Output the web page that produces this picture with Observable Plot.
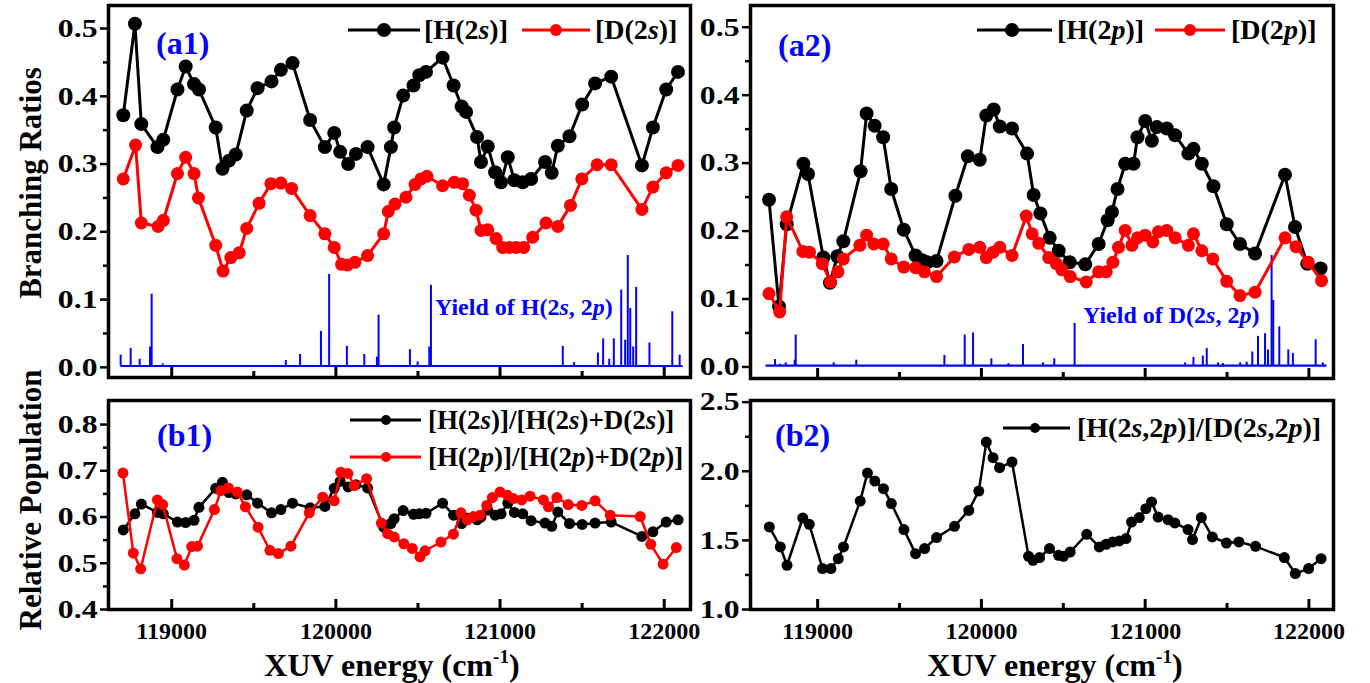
<!DOCTYPE html>
<html><head><meta charset="utf-8">
<script src="https://cdn.jsdelivr.net/npm/d3@7"></script>
<script src="https://cdn.jsdelivr.net/npm/@observablehq/plot@0.6"></script>
<style>
body{margin:0;background:#fff;}
#wrap{position:relative;width:1370px;height:683px;overflow:hidden;font-family:"Liberation Serif","Times New Roman",serif;font-weight:bold;}
.abs{position:absolute;white-space:nowrap;line-height:1;}
svg.pl{position:absolute;overflow:visible;}
svg.pl text{font-weight:bold;}
</style></head>
<body><div id="wrap"></div>
<script>
// ---------- data ----------
const h2sE=[118705,118776,118815,118913,118949,119035,119085,119136,119166,119268,119309,119349,119390,119457,119523,119608,119665,119736,119843,119933,119990,120026,120075,120122,120193,120291,120335,120355,120410,120473,120508,120549,120650,120717,120766,120793,120860,120884,120925,120970,121006,121047,121087,121138,121189,121274,121315,121352,121423,121500,121579,121677,121864,121931,122012,122084];
const h2sV=[0.372,0.507,0.359,0.325,0.336,0.410,0.444,0.418,0.410,0.354,0.293,0.305,0.314,0.379,0.412,0.422,0.439,0.449,0.365,0.325,0.346,0.318,0.300,0.315,0.325,0.270,0.325,0.354,0.401,0.416,0.431,0.436,0.457,0.416,0.385,0.377,0.340,0.303,0.326,0.288,0.273,0.310,0.276,0.273,0.278,0.303,0.287,0.327,0.341,0.388,0.419,0.429,0.298,0.354,0.410,0.436];
const d2sE=[118705,118780,118815,118917,118949,119035,119085,119136,119163,119268,119313,119360,119411,119457,119532,119604,119665,119730,119843,119933,119990,120035,120071,120116,120193,120291,120319,120360,120427,120482,120518,120555,120650,120721,120772,120813,120854,120884,120925,120976,121016,121057,121098,121144,121199,121280,121352,121429,121498,121591,121677,121864,121931,122012,122084];
const d2sV=[0.278,0.328,0.213,0.208,0.217,0.286,0.310,0.286,0.250,0.180,0.142,0.162,0.169,0.205,0.242,0.271,0.272,0.264,0.224,0.197,0.177,0.152,0.151,0.155,0.165,0.197,0.230,0.241,0.251,0.270,0.278,0.282,0.268,0.273,0.271,0.254,0.232,0.202,0.203,0.190,0.177,0.177,0.177,0.177,0.192,0.213,0.208,0.239,0.278,0.299,0.299,0.233,0.266,0.287,0.298];
const h2pE=[118703,118764,118811,118913,118941,119035,119075,119120,119157,119262,119299,119348,119400,119449,119526,119598,119638,119669,119726,119841,119917,119990,120030,120075,120112,120187,120279,120319,120360,120417,120472,120539,120634,120716,120771,120797,120831,120878,120929,120953,121000,121041,121071,121132,121183,121264,121295,121346,121417,121498,121579,121671,121854,121915,121990,122071];
const h2pV=[0.246,0.089,0.210,0.299,0.284,0.161,0.124,0.163,0.185,0.288,0.373,0.355,0.338,0.262,0.202,0.164,0.157,0.154,0.156,0.252,0.310,0.305,0.370,0.379,0.354,0.351,0.314,0.253,0.226,0.190,0.171,0.154,0.151,0.181,0.216,0.228,0.262,0.299,0.299,0.338,0.362,0.333,0.353,0.351,0.341,0.314,0.321,0.299,0.266,0.210,0.181,0.167,0.283,0.206,0.152,0.145];
const d2pE=[118703,118768,118811,118910,118950,119028,119079,119124,119157,119258,119299,119343,119400,119449,119526,119598,119652,119726,119835,119923,119990,120030,120071,120112,120187,120274,120310,120350,120411,120457,120492,120543,120640,120716,120762,120803,120837,120878,120919,120953,121000,121047,121081,121132,121183,121264,121295,121346,121413,121498,121579,121671,121854,121921,121996,122077];
const d2pV=[0.108,0.081,0.221,0.170,0.169,0.152,0.125,0.140,0.159,0.179,0.194,0.181,0.181,0.159,0.147,0.146,0.140,0.133,0.162,0.173,0.176,0.161,0.169,0.176,0.164,0.222,0.196,0.182,0.161,0.152,0.143,0.133,0.125,0.140,0.140,0.154,0.176,0.201,0.179,0.190,0.194,0.184,0.199,0.201,0.190,0.179,0.196,0.171,0.159,0.126,0.105,0.110,0.190,0.177,0.154,0.127];
const relSE=h2sE.slice();
const relSV=[0.572,0.607,0.628,0.610,0.607,0.589,0.588,0.593,0.621,0.662,0.675,0.653,0.650,0.648,0.630,0.609,0.616,0.630,0.620,0.623,0.662,0.677,0.665,0.670,0.663,0.578,0.586,0.596,0.614,0.606,0.607,0.608,0.630,0.604,0.586,0.598,0.594,0.600,0.615,0.604,0.607,0.630,0.610,0.607,0.592,0.587,0.580,0.611,0.586,0.584,0.587,0.589,0.558,0.568,0.589,0.594];
const relPE=[118703,118766,118811,118913,118945,119032,119077,119122,119157,119260,119299,119345,119400,119449,119526,119598,119650,119726,119838,119920,119990,120030,120073,120112,120187,120277,120315,120355,120414,120465,120512,120543,120640,120716,120762,120800,120837,120878,120919,120953,121000,121044,121081,121132,121183,121264,121295,121346,121415,121498,121579,121671,121854,121918,121993,122074];
const relPV=[0.695,0.522,0.488,0.637,0.627,0.510,0.496,0.536,0.537,0.616,0.657,0.663,0.654,0.622,0.578,0.528,0.521,0.537,0.609,0.643,0.635,0.697,0.694,0.668,0.683,0.587,0.564,0.557,0.542,0.532,0.514,0.527,0.546,0.563,0.609,0.594,0.601,0.604,0.625,0.642,0.654,0.647,0.640,0.637,0.645,0.637,0.622,0.642,0.627,0.625,0.635,0.604,0.601,0.541,0.498,0.534];
const ratioE=[118705,118772,118813,118909,118949,119030,119081,119126,119158,119260,119304,119349,119402,119450,119527,119598,119653,119726,119836,119923,119984,120030,120071,120111,120187,120288,120315,120355,120416,120471,120501,120542,120643,120720,120761,120802,120842,120883,120917,120964,121004,121039,121079,121140,121181,121262,121289,121343,121410,121496,121572,121674,121850,121917,121998,122074];
const ratioV=[1.597,1.453,1.320,1.662,1.616,1.296,1.296,1.368,1.453,1.785,1.987,1.929,1.874,1.766,1.578,1.404,1.441,1.520,1.602,1.717,1.857,2.211,2.098,2.026,2.067,1.385,1.356,1.376,1.441,1.392,1.385,1.416,1.544,1.453,1.472,1.489,1.496,1.513,1.633,1.665,1.729,1.778,1.669,1.650,1.626,1.578,1.506,1.665,1.525,1.481,1.489,1.457,1.376,1.260,1.296,1.368];
// yield spectra: peak energies and heights
const yieldHE=[118689,118750,118805,118868,118878,118945,119695,119782,119909,119959,120067,120173,120250,120260,120451,120498,120569,120579,121382,121451,121596,121628,121665,121693,121738,121762,121778,121793,121811,121829,121910,122049,122094];
const yieldHV=[0.018,0.028,0.012,0.030,0.108,0.005,0.010,0.019,0.053,0.137,0.031,0.019,0.015,0.077,0.026,0.008,0.030,0.121,0.031,0.007,0.021,0.042,0.012,0.042,0.114,0.040,0.165,0.087,0.030,0.118,0.036,0.082,0.018];
const yieldDE=[118740,118770,118805,118860,118866,119098,119236,119774,119898,119949,120061,120165,120254,120376,120445,120569,121244,121295,121352,121376,121445,121475,121580,121620,121654,121689,121732,121750,121772,121782,121819,121874,121902,122041,122085];
const yieldDV=[0.011,0.004,0.006,0.010,0.047,0.006,0.010,0.017,0.047,0.050,0.012,0.005,0.033,0.006,0.012,0.064,0.006,0.014,0.016,0.027,0.006,0.005,0.006,0.007,0.022,0.045,0.049,0.025,0.164,0.098,0.059,0.025,0.020,0.040,0.006];
const yieldBase=0.002;
const yieldRangeH=[118690,122115];
const yieldRangeD=[118685,122110];
const xMajor=[119000,120000,121000,122000];
const xMinor=[119500,120500,121500];
const yMajorA=[0,0.1,0.2,0.3,0.4,0.5], yMinorA=[0.05,0.15,0.25,0.35,0.45];
const yMajorB1=[0.4,0.5,0.6,0.7,0.8], yMinorB1=[0.45,0.55,0.65,0.75];
const yMajorB2=[1.0,1.5,2.0,2.5], yMinorB2=[1.25,1.75,2.25];

// ---------- helpers ----------
const zip=(E,V)=>E.map((e,i)=>({e,v:V[i]}));
const BLUE="#0000ff";
const FONT='"Liberation Serif","Times New Roman",serif';
const wrap=document.getElementById("wrap");
function stretchY(svg,k){
  svg.querySelectorAll('[aria-label="y-axis tick label"] text').forEach(t=>{
    const tr=t.getAttribute("transform");
    if(tr){t.setAttribute("transform",tr+` scale(${k},1)`);}
    else{
      const x=parseFloat(t.getAttribute("x")||"0");
      t.removeAttribute("x");
      t.setAttribute("transform",`translate(${x},0) scale(${k},1)`);
    }
  });
}
function panel({left,top,width,height,ml,mr,mt,mb,xDomain,yDomain,yMajor,yMinor,xLabels,marks}){
  const innerH=height-mt-mb;
  const m=[
    ...marks,
    Plot.tickX(xMajor,{x:d=>d,insetTop:innerH-10,stroke:"black",strokeWidth:3}),
    Plot.tickX(xMinor,{x:d=>d,insetTop:innerH-6,stroke:"black",strokeWidth:3}),
    Plot.axisY({ticks:yMajor,tickSize:8,tickPadding:3,strokeWidth:2.5,label:null,fontSize:26,fontWeight:"bold",tickFormat:d3.format(".1f")}),
    Plot.axisY({ticks:yMinor,tickSize:5,strokeWidth:2.5,label:null,tickFormat:()=>""}),
    Plot.frame({stroke:"black",strokeWidth:3.5})
  ];
  if(xLabels) m.push(Plot.axisX({ticks:xMajor,tickSize:0,tickPadding:12,label:null,fontSize:24,fontWeight:"bold",tickFormat:d3.format("d")}));
  const svg=Plot.plot({width,height,marginLeft:ml,marginRight:mr,marginTop:mt,marginBottom:mb,
    x:{domain:xDomain,axis:null},y:{domain:yDomain,axis:null},
    style:{fontFamily:FONT,fontSize:"26px",fontWeight:"bold",color:"black",background:"transparent"},
    marks:m});
  stretchY(svg,1.22);
  svg.classList.add("pl");
  svg.style.left=left+"px"; svg.style.top=top+"px";
  wrap.appendChild(svg);
}
function series(E,V,color,r,sw){
  const d=zip(E,V);
  return [Plot.line(d,{x:"e",y:"v",stroke:color,strokeWidth:sw}),Plot.dot(d,{x:"e",y:"v",fill:color,r})];
}
function spectrum(E,V,range){
  return [Plot.ruleY([yieldBase],{x1:range[0],x2:range[1],stroke:BLUE,strokeWidth:2.2}),
          Plot.ruleX(zip(E,V),{x:"e",y1:yieldBase,y2:"v",stroke:BLUE,strokeWidth:2})];
}
function text(html,x,y,size,opts={}){
  const d=document.createElement("div");
  d.className="abs"; d.innerHTML=html;
  d.style.fontSize=size+"px"; d.style.left=x+"px"; d.style.top=y+"px";
  d.style.color=opts.color||"black";
  d.style.transform=opts.transform||"translate(0,-50%)";
  wrap.appendChild(d);
}
function swatch(x0,x1,xd,y,color,r){
  const ns="http://www.w3.org/2000/svg";
  const s=document.createElementNS(ns,"svg");
  s.setAttribute("width",x1-x0); s.setAttribute("height",20);
  s.style.position="absolute"; s.style.left=x0+"px"; s.style.top=(y-10)+"px";
  s.innerHTML=`<line x1="0" y1="10" x2="${x1-x0}" y2="10" stroke="${color}" stroke-width="3"/><circle cx="${xd-x0}" cy="10" r="${r}" fill="${color}"/>`;
  wrap.appendChild(s);
}

// ---------- panels ----------
const xDomA1=[118615,122160], xDomA2=[118590,122150];
panel({left:0,top:0,width:700,height:385,ml:108,mr:10,mt:5,mb:8,xDomain:xDomA1,yDomain:[-0.015,0.534],yMajor:yMajorA,yMinor:yMinorA,xLabels:false,
  marks:[...spectrum(yieldHE,yieldHV,yieldRangeH),...series(h2sE,h2sV,"black",7,3),...series(d2sE,d2sV,"red",6.5,3)]});
panel({left:640,top:0,width:703,height:386,ml:110,mr:10,mt:5,mb:8,xDomain:xDomA2,yDomain:[-0.017,0.532],yMajor:yMajorA,yMinor:yMinorA,xLabels:false,
  marks:[...spectrum(yieldDE,yieldDV,yieldRangeD),...series(h2pE,h2pV,"black",7,3),...series(d2pE,d2pV,"red",6.5,3)]});
panel({left:0,top:390,width:700,height:270,ml:108,mr:10,mt:10,mb:51,xDomain:xDomA1,yDomain:[0.4,0.852],yMajor:yMajorB1,yMinor:yMinorB1,xLabels:true,
  marks:[...series(relSE,relSV,"black",5.5,2.5),...series(relPE,relPV,"red",5.5,2.5)]});
panel({left:640,top:390,width:703,height:270,ml:110,mr:10,mt:10,mb:51,xDomain:xDomA2,yDomain:[1.0,2.512],yMajor:yMajorB2,yMinor:yMinorB2,xLabels:true,
  marks:[...series(ratioE,ratioV,"black",5.5,2.5)]});

// ---------- texts ----------
text("Branching Ratios",30,183,31,{transform:"translate(-50%,-50%) rotate(-90deg)"});
text("Relative Population",30,500,31,{transform:"translate(-50%,-50%) rotate(-90deg)"});
text("XUV energy (cm<sup style='font-size:0.6em;vertical-align:0.7em'>-1</sup>)",392,664,32,{transform:"translate(-50%,-50%)"});
text("XUV energy (cm<sup style='font-size:0.6em;vertical-align:0.7em'>-1</sup>)",1055,664,32,{transform:"translate(-50%,-50%)"});
text("(a1)",156,43,32,{color:BLUE});
text("(a2)",778,45,32,{color:BLUE});
text("(b1)",157,435,32,{color:BLUE});
text("(b2)",775,435,32,{color:BLUE});
text("Yield of H(2<i>s</i>, 2<i>p</i>)",435,307,24,{color:BLUE});
text("Yield of D(2<i>s</i>, 2<i>p</i>)",1083,315,24,{color:BLUE});
// legends
swatch(348,420,384,30,"black",7); text("[H(2<i>s</i>)]",424,30,28);
swatch(522,590,556,30,"red",6); text("[D(2<i>s</i>)]",595,30,28);
swatch(977,1052,1012,30,"black",7); text("[H(2<i>p</i>)]",1057,30,28);
swatch(1155,1225,1190,30,"red",6); text("[D(2<i>p</i>)]",1231,30,28);
swatch(350,421,386,420,"black",5); text("[H(2<i>s</i>)]/[H(2<i>s</i>)+D(2<i>s</i>)]",428,420,27);
swatch(350,421,386,457,"red",5); text("[H(2<i>p</i>)]/[H(2<i>p</i>)+D(2<i>p</i>)]",428,457,27);
swatch(1003,1070,1035,428,"black",5); text("[H(2<i>s</i>,2<i>p</i>)]/[D(2<i>s</i>,2<i>p</i>)]",1077,428,28);
</script></body></html>
